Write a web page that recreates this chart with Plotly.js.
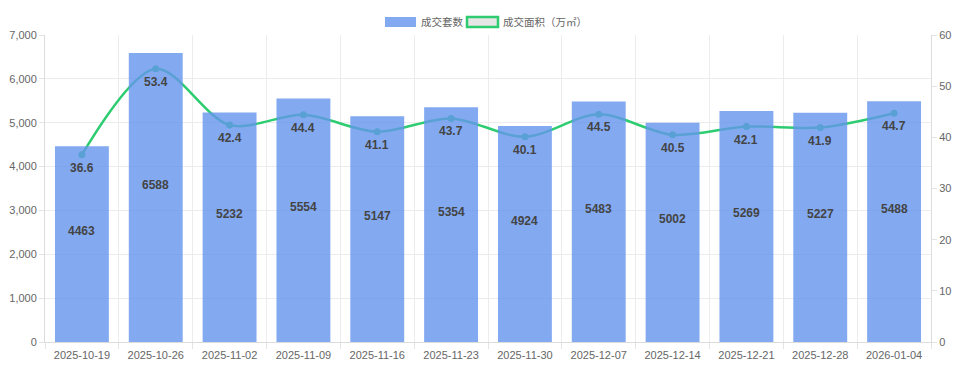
<!DOCTYPE html>
<html><head><meta charset="utf-8">
<script src="https://cdn.plot.ly/plotly-3.0.1.min.js"></script>
<style>html,body{margin:0;padding:0;background:#fff}#c{width:960px;height:376px}</style>
</head><body><div id="c"></div>
<script>
const dates = ["2025-10-19","2025-10-26","2025-11-02","2025-11-09","2025-11-16","2025-11-23","2025-11-30","2025-12-07","2025-12-14","2025-12-21","2025-12-28","2026-01-04"];
const units = [4463,6588,5232,5554,5147,5354,4924,5483,5002,5269,5227,5488];
const area = [36.6,53.4,42.4,44.4,41.1,43.7,40.1,44.5,40.5,42.1,41.9,44.7];
const seriesNames = ["成交套数","成交面积（万㎡）"];

const FONT = "Liberation Sans, Arial, Noto Sans CJK SC, sans-serif";
const W = 960, H = 376, L = 45, R = 29, T = 35, B = 34;
const pw = W - L - R, ph = H - T - B;
const px = x => (x - L) / pw, py = y => (H - B - y) / ph;

const lineTrace = {
  type: 'scatter', mode: 'lines+markers', x: dates, y: area, yaxis: 'y', xaxis: 'x',
  line: {color: '#2ecc71', width: 2.5, shape: 'spline', smoothing: 0.9},
  marker: {color: '#2ecc71', size: 7}, hoverinfo: 'skip', showlegend: false, cliponaxis: false
};
const barTrace = {
  type: 'bar', x: dates, y: units, yaxis: 'y2', xaxis: 'x',
  marker: {color: 'rgba(100,149,237,0.8)', line: {width: 0}},
  hoverinfo: 'skip', showlegend: false
};

const annotations = [];
dates.forEach((d, i) => {
  annotations.push({x: d, y: units[i] / 2, xref: 'x', yref: 'y2', text: String(units[i]),
    showarrow: false, yshift: 13, font: {family: FONT, size: 12, color: '#444', weight: 'bold'}});
  annotations.push({x: d, y: area[i], xref: 'x', yref: 'y', text: area[i].toFixed(1),
    showarrow: false, yshift: -13, font: {family: FONT, size: 12, color: '#444', weight: 'bold'}});
});
// legend
annotations.push({x: px(419), y: py(22), xref: 'paper', yref: 'paper', xanchor: 'left', yanchor: 'middle',
  text: seriesNames[0], showarrow: false, font: {family: FONT, size: 10.5, color: '#666'}});
annotations.push({x: px(501), y: py(22), xref: 'paper', yref: 'paper', xanchor: 'left', yanchor: 'middle',
  text: seriesNames[1], showarrow: false, font: {family: FONT, size: 10.5, color: '#666'}});
const shapes = [
  {type: 'rect', xref: 'paper', yref: 'paper', x0: px(385), x1: px(416), y0: py(27), y1: py(17),
    fillcolor: 'rgba(100,149,237,0.8)', line: {width: 0}},
  {type: 'rect', xref: 'paper', yref: 'paper', x0: px(467), x1: px(498), y0: py(27), y1: py(17),
    fillcolor: '#e6e6e6', line: {color: '#2ecc71', width: 2.5}}
];

const layout = {
  width: W, height: H, margin: {l: L, r: R, t: T, b: B},
  paper_bgcolor: '#fff', plot_bgcolor: '#fff',
  font: {family: FONT, size: 11, color: '#666'},
  showlegend: false, bargap: 0.27,
  xaxis: {type: 'category', range: [-0.5, dates.length - 0.5], tickson: 'boundaries', showgrid: true,
    gridcolor: '#ececec', automargin: false, ticklabelstandoff: 3,
    ticks: 'outside', ticklen: 6, tickcolor: '#e4e4e4', showline: true, linecolor: '#dcdcdc',
    tickfont: {family: FONT, size: 11, color: '#666'}, zeroline: false, fixedrange: true},
  yaxis: {side: 'right', range: [0, 60], dtick: 10, showgrid: false, zeroline: false, automargin: false,
    ticks: 'outside', ticklen: 5, tickcolor: '#e4e4e4', showline: true, linecolor: '#dcdcdc',
    tickfont: {family: FONT, size: 11, color: '#666'}},
  yaxis2: {side: 'left', overlaying: 'y', range: [0, 7000], dtick: 1000, tickformat: ',', automargin: false,
    showgrid: true, gridcolor: '#ececec', zeroline: false, ticks: 'outside', ticklen: 5,
    tickcolor: '#e4e4e4', showline: true, linecolor: '#dcdcdc',
    tickfont: {family: FONT, size: 11, color: '#666'}},
  annotations: annotations, shapes: shapes
};
Plotly.newPlot('c', [lineTrace, barTrace], layout, {staticPlot: true, displayModeBar: false});
</script></body></html>
